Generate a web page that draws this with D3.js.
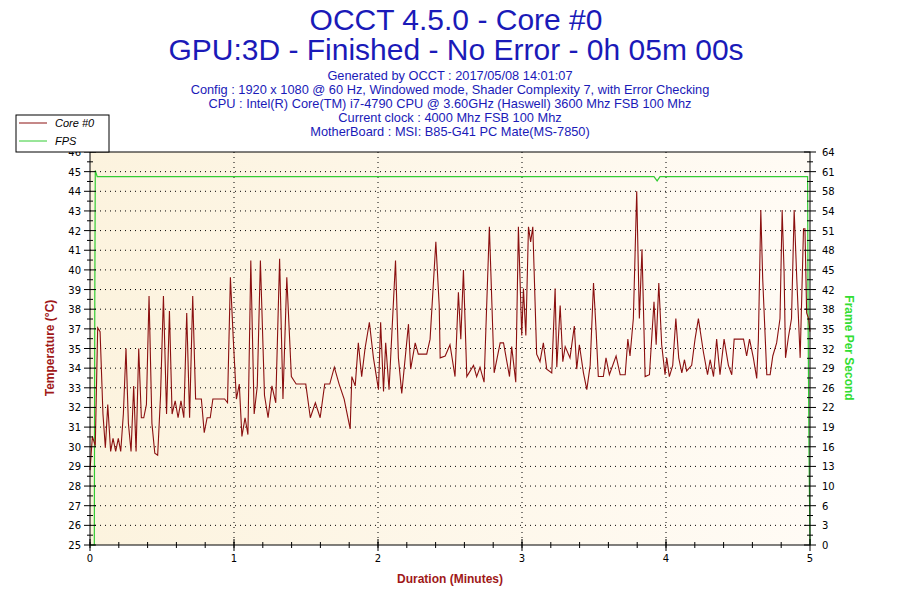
<!DOCTYPE html>
<html><head><meta charset="utf-8">
<script src="https://cdn.jsdelivr.net/npm/d3@7"></script>
<style>body{margin:0;background:#fff}svg{display:block}</style>
</head><body><svg id="chart" width="900" height="600"></svg>
<script>
// Temperature axis: 21 ticks from 25 to 46, OCCT rounds the labels
const tempTicks = d3.range(21).map(i => 25 + i * 1.05);
const tempLabels = [25,26,27,28,29,30,31,32,33,34,35,37,38,39,40,41,42,43,44,45,46];
const fpsLabels = [0,3,6,10,13,16,19,22,26,29,32,35,38,42,45,48,51,54,58,61,64];
const minuteTicks = [0,1,2,3,4,5];

const titleLines = ["OCCT 4.5.0 - Core #0", "GPU:3D - Finished - No Error - 0h 05m 00s"];
const infoLines = [
  "Generated by OCCT : 2017/05/08 14:01:07",
  "Config : 1920 x 1080 @ 60 Hz, Windowed mode, Shader Complexity 7, with Error Checking",
  "CPU : Intel(R) Core(TM) i7-4790 CPU @ 3.60GHz (Haswell) 3600 Mhz FSB 100 Mhz",
  "Current clock : 4000 Mhz FSB 100 Mhz",
  "MotherBoard : MSI: B85-G41 PC Mate(MS-7850)"
];

// [seconds, °C]
const coreSamples = [
[0,29.0],[1.0,30.8],[2.2,30.3],[3.2,36.6],[4.2,36.4],[5.4,32],[6.4,30.2],[7.4,32.5],[8.6,30],[9.6,30.7],[10.7,30],[11.8,30.7],[12.8,30],[13.9,32],
[15.0,35.5],[16.0,31.5],[17.1,30],[18.2,33.5],[19.2,30],[20.3,35.5],[21.4,31.8],[22.4,31.8],[23.5,32.5],[24.6,38.3],[25.8,31.5],[27.0,29.9],[28.2,29.8],
[29.4,33],[30.6,38.3],[31.9,32],[33.1,37.5],[34.2,32],[35.5,32.7],[36.7,31.8],[37.9,32.7],[39.1,31.8],[40.3,37.4],[41.5,31.8],[42.8,38.3],[44.0,32.8],
[45.1,32.8],[46.4,32.8],[47.6,31],[48.8,31.8],[50.1,31.8],[51.2,32.8],[52.4,32.8],[53.7,32.8],[54.9,32.8],[56.1,32.8],[57.3,32.6],[58.5,39.3],[59.7,36],
[61.0,32.8],[62.2,33.6],[63.3,30.8],[64.6,31.8],[65.8,30.9],[67,40.2],[68.4,32],[69.7,33.5],[71,40.2],[72.7,33],[74.2,31.8],[75.8,33.5],[77.4,32.6],
[79,40.3],[80.4,32.8],[82,39.3],[83.9,34],[85.9,33.6],[88,33.6],[89.9,33.6],[91.8,31.8],[93.9,32.6],[95.9,31.8],[97.8,33.6],[99.9,33.6],
[101.8,34.5],[103.8,33.6],[105.9,32.8],[108.4,31.2],
[109.1,34],[110.5,33.5],[111.8,35.8],[113.2,34],[114.6,35.5],[116.4,36.9],[118.1,35],[120.2,33.3],[121.1,36.9],[122.3,33.2],[123.2,35.8],
[124.6,33.3],[127.3,40.2],[128.5,35],[129.9,33.1],[132.7,36.8],[133.6,34.4],[135.5,35.8],[136.8,35.2],[140.3,35.2],[141.7,36],[144.1,41.2],
[145.5,37.8],[145.9,35],[148,35.1],[150,35.7],[152.1,34],[153.5,38.5],[154.5,36],[155.6,39.7],[157,34],[159.8,34.6],[161.1,34],[162.5,34.5],
[164.2,33.7],[166.4,42],[168.4,34.2],[170.9,35.8],[172.3,35.8],[174.8,34],[175.7,35.6],[177.4,33.7],[178.5,42],[179.9,36.2],[180.6,38.7],
[181.6,36.2],[182.7,42],[183.6,41.2],[184.5,42],[186.1,35.2],[187.5,34.8],[188.9,35.8],[190.3,34.4],[192.4,34.2],[193.8,38.7],[194.5,34.5],
[195.9,37.8],[197,34.8],[198,35.6],[200,35],[201.8,36.7],[202.8,34.4],[203.9,35.7],[205.6,34.2],
[207,33.3],[208.4,34.6],[209.8,39],[210.9,36.4],[211.8,34],[213.9,34],[215,35],[216.4,34.1],[219.2,35.1],[220.9,34.1],[223,34.1],[224.1,36],
[225,35.1],[226.4,37.1],[227.8,43.9],[228.9,37.1],[230,40.8],[231.3,34],[233.1,34.1],[235,38],[235.9,35.7],[237,39],[238.2,35.7],[239.6,34.1],
[240.3,35],[241.4,34],[242.8,34.6],[244.1,37.1],[245.3,35],[246.6,34.2],[247.7,34.9],[248.6,34.3],[250.7,34.6],[252.1,36],[253.5,37.1],
[255.6,35.3],[257.3,34.1],[258.4,34.9],[259.8,34],[261.1,36],[262.5,34.1],[264.2,36],[266,34.6],[267.4,34.1],[268.4,36],[270.2,36],[272.3,36],
[273.6,35.1],[274.8,36],[276.4,35],[277.8,33.9],[278.5,36],[279.5,42.9],[280.3,39.2],[282,34.1],[283.4,34.1],[284.5,35.1],[286.1,35.8],
[287.5,37.1],[288.4,42.9],[289.2,39.6],[289.8,35],[291,36.1],[292.3,37.1],[293.4,42.9],[294.5,39.2],[295.9,35],[297.3,41.9],[297.9,41.9],
[298.6,37.4],[299.4,37.1],[300,36.4]
];
// [seconds, fps]
const fpsSamples = [[0,0],[1.8,0],[2.0,40],[2.2,61],[3,60],[235,60],[236.3,59.3],[237.5,60],[299,60],[299.2,37],[299.6,15],[300,0]];

const svg = d3.select("#chart");
const pLeft = 90, pRight = 810, pTop = 152, pBottom = 545;
const x = d3.scaleLinear().domain([0, 300]).range([pLeft, pRight]);
const yT = d3.scaleLinear().domain([25, 46]).range([pBottom, pTop]);
const yF = d3.scaleLinear().domain([0, 64]).range([pBottom, pTop]);
const font = "Tahoma, 'DejaVu Sans', sans-serif";

const grad = svg.append("defs").append("linearGradient").attr("id", "bg");
grad.append("stop").attr("offset", "0%").attr("stop-color", "#fcf3de");
grad.append("stop").attr("offset", "100%").attr("stop-color", "#fffbf5");
svg.append("rect").attr("x", pLeft).attr("y", pTop).attr("width", pRight - pLeft).attr("height", pBottom - pTop).attr("fill", "url(#bg)");

// grid
svg.append("g").selectAll("line").data(tempTicks.slice(1, -1)).join("line")
  .attr("x1", pLeft).attr("x2", pRight).attr("y1", d => yT(d)).attr("y2", d => yT(d))
  .attr("stroke", "#000").attr("stroke-dasharray", "1,4");
svg.append("g").selectAll("line").data(minuteTicks.slice(1, -1)).join("line")
  .attr("x1", d => x(d * 60)).attr("x2", d => x(d * 60)).attr("y1", pTop).attr("y2", pBottom)
  .attr("stroke", "#000").attr("stroke-dasharray", "1,4");

// lines
svg.append("path").datum(fpsSamples)
  .attr("d", d3.line().x(d => x(d[0])).y(d => yF(d[1])))
  .attr("fill", "none").attr("stroke", "#33cc33").attr("stroke-width", 1.2);
svg.append("path").datum(coreSamples)
  .attr("d", d3.line().x(d => x(d[0])).y(d => yT(d[1])))
  .attr("fill", "none").attr("stroke", "#8b1010").attr("stroke-width", 1.1);

// frame
svg.append("rect").attr("x", pLeft).attr("y", pTop).attr("width", pRight - pLeft).attr("height", pBottom - pTop)
  .attr("fill", "none").attr("stroke", "#000");

// left axis
const gl = svg.append("g");
gl.selectAll("line.maj").data(tempTicks).join("line")
  .attr("x1", pLeft - 6).attr("x2", pLeft + 6).attr("y1", d => yT(d)).attr("y2", d => yT(d)).attr("stroke", "#000");
gl.selectAll("line.min").data(tempTicks.slice(0, -1)).join("line").attr("class", "min")
  .attr("x1", pLeft - 3).attr("x2", pLeft + 3).attr("y1", d => yT(d + 0.525)).attr("y2", d => yT(d + 0.525)).attr("stroke", "#000");
gl.selectAll("text").data(tempTicks).join("text")
  .attr("x", pLeft - 9).attr("y", d => yT(d) + 4).attr("text-anchor", "end")
  .attr("font-family", font).attr("font-size", 10).text((d, i) => tempLabels[i]);

// right axis
const fpsTicks = d3.range(21).map(i => i * 3.2);
const gr = svg.append("g");
gr.selectAll("line.maj").data(fpsTicks).join("line")
  .attr("x1", pRight - 6).attr("x2", pRight + 6).attr("y1", d => yF(d)).attr("y2", d => yF(d)).attr("stroke", "#000");
gr.selectAll("line.min").data(fpsTicks.slice(0, -1)).join("line").attr("class", "min")
  .attr("x1", pRight - 3).attr("x2", pRight + 3).attr("y1", d => yF(d + 1.6)).attr("y2", d => yF(d + 1.6)).attr("stroke", "#000");
gr.selectAll("text").data(fpsTicks).join("text")
  .attr("x", pRight + 12).attr("y", d => yF(d) + 4)
  .attr("font-family", font).attr("font-size", 10).text((d, i) => fpsLabels[i]);

// bottom axis
const gb = svg.append("g");
gb.selectAll("line.maj").data(minuteTicks).join("line")
  .attr("x1", d => x(d * 60)).attr("x2", d => x(d * 60)).attr("y1", pBottom - 6).attr("y2", pBottom + 6).attr("stroke", "#000");
gb.selectAll("line.min").data(d3.range(0, 300, 12)).join("line").attr("class", "min")
  .attr("x1", d => x(d)).attr("x2", d => x(d)).attr("y1", pBottom - 3).attr("y2", pBottom + 3).attr("stroke", "#000");
gb.selectAll("text").data(minuteTicks).join("text")
  .attr("x", d => x(d * 60)).attr("y", pBottom + 17).attr("text-anchor", "middle")
  .attr("font-family", font).attr("font-size", 10).text(d => d);

// axis titles
svg.append("text").attr("x", 450).attr("y", 583).attr("text-anchor", "middle")
  .attr("font-family", "'Liberation Sans', Arial, sans-serif").attr("font-weight", "bold").attr("font-size", 12)
  .attr("fill", "#a01818").text("Duration (Minutes)");
svg.append("text").attr("transform", "translate(54,348) rotate(-90)").attr("text-anchor", "middle")
  .attr("font-family", "'Liberation Sans', Arial, sans-serif").attr("font-weight", "bold").attr("font-size", 12)
  .attr("fill", "#a01818").text("Temperature (°C)");
svg.append("text").attr("transform", "translate(845,348) rotate(90)").attr("text-anchor", "middle")
  .attr("font-family", "'Liberation Sans', Arial, sans-serif").attr("font-weight", "bold").attr("font-size", 12)
  .attr("fill", "#33dd33").text("Frame Per Second");

// titles
svg.selectAll("text.title").data(titleLines).join("text").attr("class", "title")
  .attr("x", 456).attr("y", (d, i) => 30 + i * 30).attr("text-anchor", "middle")
  .attr("font-family", "'Liberation Sans Narrow', 'Arial Narrow', sans-serif").attr("font-size", 30)
  .attr("fill", "#1a1ab8").text(d => d);
svg.selectAll("text.info").data(infoLines).join("text").attr("class", "info")
  .attr("x", 450).attr("y", (d, i) => 80 + i * 14).attr("text-anchor", "middle")
  .attr("font-family", "'Liberation Sans Narrow', 'Arial Narrow', sans-serif").attr("font-size", 12.8)
  .attr("fill", "#1a1ab8").text(d => d);

// legend
const leg = svg.append("g");
leg.append("rect").attr("x", 16).attr("y", 115).attr("width", 93).attr("height", 37).attr("fill", "#fff").attr("stroke", "#000");
[["Core #0", "#8b1010"], ["FPS", "#33cc33"]].forEach((s, i) => {
  leg.append("line").attr("x1", 19).attr("x2", 47).attr("y1", 123 + i * 18).attr("y2", 123 + i * 18).attr("stroke", s[1]);
  leg.append("text").attr("x", 55).attr("y", 127 + i * 18).attr("font-family", "'Liberation Sans Narrow', sans-serif")
    .attr("font-style", "italic").attr("font-size", 11).text(s[0]);
});
</script></body></html>
